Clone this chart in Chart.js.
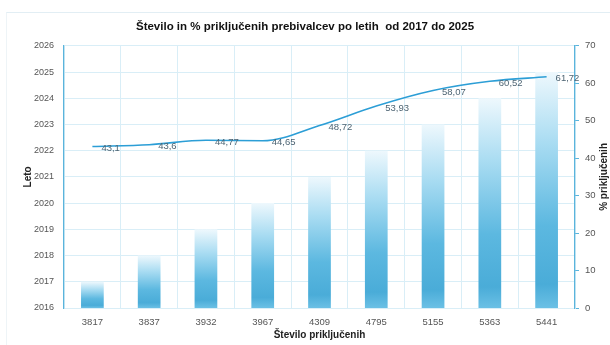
<!DOCTYPE html>
<html>
<head>
<meta charset="utf-8">
<script src="https://cdn.jsdelivr.net/npm/chart.js@4.4.1/dist/chart.umd.min.js"></script>
<style>
  html, body { margin: 0; padding: 0; background: #fff; }
  #wrap { position: relative; width: 610px; height: 345px; }
  #frame { position: absolute; left: 6px; top: 12px; width: 620px; height: 400px;
           border-top: 1px solid #e2eef4; border-left: 1px solid #eef4f7; }
  canvas { position: absolute; left: 0; top: 0; }
</style>
</head>
<body>
<div id="wrap">
  <div id="frame"></div>
  <canvas id="chart" width="610" height="345"></canvas>
</div>
<script>
// Data
const categories = ['3817', '3837', '3932', '3967', '4309', '4795', '5155', '5363', '5441'];
const years = [2017, 2018, 2019, 2020, 2021, 2022, 2023, 2024, 2025];
const percents = [43.1, 43.6, 44.77, 44.65, 48.72, 53.93, 58.07, 60.52, 61.72];
const percentLabels = ['43,1', '43,6', '44,77', '44,65', '48,72', '53,93', '58,07', '60,52', '61,72'];

const gridColor = '#d9eef7';
const axisColor = '#5ab4dc';
const tickColor = '#555';

// gradient for every bar, from its top down to the base
function barGradient(ctx) {
    const chart = ctx.chart;
    const y = chart.scales.y;
    if (!chart.chartArea || !y || ctx.raw === undefined) return '#7cc6e8';
    const top = y.getPixelForValue(ctx.raw);
    const bottom = y.getPixelForValue(y.min);
    const g = chart.ctx.createLinearGradient(0, top, 0, bottom);
    g.addColorStop(0, 'rgba(238,248,253,1)');
    g.addColorStop(0.3, '#a9dcf2');
    g.addColorStop(0.65, '#5cb8e0');
    g.addColorStop(0.9, '#4aacd8');
    g.addColorStop(1, '#6bc0e5');
    return g;
}

// draws the value labels next to the line points and the right axis title
const extras = {
    id: 'extras',
    afterDatasetsDraw(chart) {
        const c = chart.ctx;
        const meta = chart.getDatasetMeta(1);
        c.save();
        c.font = '9.5px "Liberation Sans", Arial, sans-serif';
        c.fillStyle = '#4d6473';
        c.textAlign = 'left';
        c.textBaseline = 'middle';
        meta.data.forEach(function(pt, i) {
            c.fillText(percentLabels[i], pt.x + 9, pt.y + 2);
        });
        c.restore();

        c.save();
        c.font = 'bold 10px "Liberation Sans", Arial, sans-serif';
        c.fillStyle = '#222';
        c.textAlign = 'center';
        c.textBaseline = 'middle';
        c.translate(604, (chart.chartArea.top + chart.chartArea.bottom) / 2);
        c.rotate(-Math.PI / 2);
        c.fillText('% priključenih', 0, 0);
        c.restore();
    }
};

const ctx = document.getElementById('chart').getContext('2d');
new Chart(ctx, {
    data: {
        labels: categories,
        datasets: [{
            type: 'bar',
            label: 'Leto',
            data: years,
            yAxisID: 'y',
            backgroundColor: barGradient,
            barPercentage: 0.4,
            categoryPercentage: 1,
            order: 2
        }, {
            type: 'line',
            label: '% priključenih',
            data: percents,
            yAxisID: 'y1',
            borderColor: '#2c9ed6',
            borderWidth: 1.6,
            pointRadius: 0,
            cubicInterpolationMode: 'monotone',
            fill: false,
            order: 1
        }]
    },
    options: {
        responsive: false,
        animation: false,
        layout: { padding: 0 },
        plugins: {
            legend: { display: false },
            tooltip: { enabled: false },
            title: {
                display: true,
                text: 'Število in % priključenih prebivalcev po letih  od 2017 do 2025',
                color: '#111',
                font: { family: '"Liberation Sans", Arial, sans-serif', size: 11.5, weight: 'bold' },
                padding: { top: 20, bottom: 12 }
            }
        },
        scales: {
            x: {
                grid: { color: gridColor, offset: true, drawTicks: false },
                border: { color: gridColor },
                ticks: { color: tickColor, font: { family: '"Liberation Sans", Arial, sans-serif', size: 9.5 }, padding: 9 },
                title: {
                    display: true,
                    text: 'Število priključenih',
                    color: '#222',
                    font: { family: '"Liberation Sans", Arial, sans-serif', size: 10, weight: 'bold' },
                    padding: { top: 6 }
                },
                afterFit: function(s) { s.height = 37; }
            },
            y: {
                position: 'left',
                min: 2016,
                max: 2026,
                ticks: {
                    stepSize: 1,
                    color: tickColor,
                    font: { family: '"Liberation Sans", Arial, sans-serif', size: 9 },
                    padding: 10,
                    callback: function(v) { return String(v); }
                },
                grid: { color: gridColor, drawTicks: false },
                border: { color: axisColor, width: 1.2 },
                title: {
                    display: true,
                    text: 'Leto',
                    color: '#222',
                    font: { family: '"Liberation Sans", Arial, sans-serif', size: 10, weight: 'bold' },
                    padding: { top: 22 }
                },
                afterFit: function(s) { s.width = 64; }
            },
            y1: {
                position: 'right',
                min: 0,
                max: 70,
                ticks: { stepSize: 10, color: tickColor, font: { family: '"Liberation Sans", Arial, sans-serif', size: 9.5 }, padding: 6 },
                grid: { drawOnChartArea: false, color: axisColor, tickLength: 4 },
                border: { color: axisColor, width: 1.2 },
                afterFit: function(s) { s.width = 35; }
            }
        }
    },
    plugins: [extras]
});
</script>
</body>
</html>
